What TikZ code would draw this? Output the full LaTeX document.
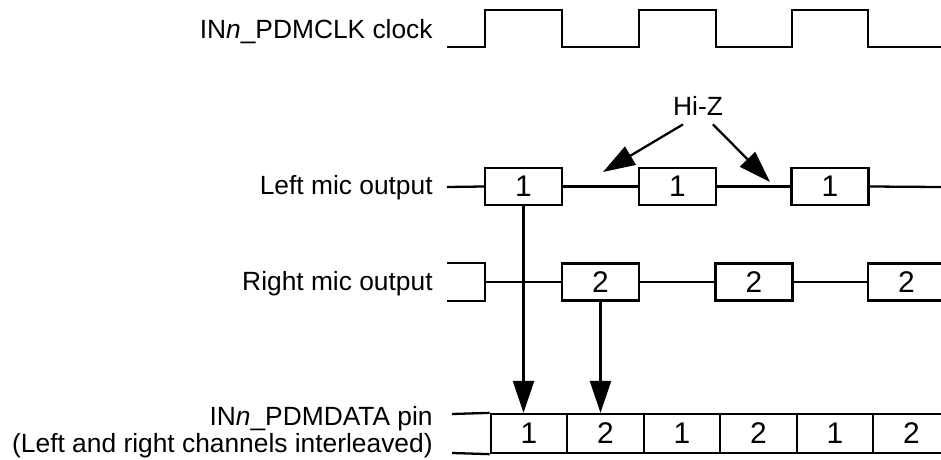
\documentclass[tikz,border=0pt]{standalone}
\usepackage{fontspec}
\setmainfont{Liberation Sans}
\usetikzlibrary{arrows.meta}

\begin{document}
\begin{tikzpicture}[
	x=0.02cm, y=-0.02cm,
	every node/.style = {font=\fontsize{15}{18}\selectfont},
	sig/.style = {line width=1.3pt},
	box/.style = {rectangle, draw, line width=1.3pt, minimum width=1.54cm, minimum height=0.74cm, inner sep=0pt, font=\fontsize{17}{20}\selectfont},
	cell/.style = {rectangle, draw, line width=1.3pt, minimum width=1.53cm, minimum height=0.78cm, inner sep=0pt, font=\fontsize{17}{20}\selectfont},
	lbl/.style = {anchor=base east, inner sep=0pt},
	arr/.style = {-{Triangle[length=0.64cm, width=0.42cm]}, line width=1.3pt}
	]
	\useasboundingbox (0, 0) rectangle (941, 460);
	
	% === === === Labels === === ===
	\node[lbl]	(clk-lbl)	at	(433, 38)	{IN\textit{n}\_PDMCLK clock};
	\node[lbl]	(left-lbl)	at	(433, 194)	{Left mic output};
	\node[lbl]	(right-lbl)	at	(433, 290)	{Right mic output};
	\node[lbl]	(data-lbl)	at	(433, 425)	{IN\textit{n}\_PDMDATA pin};
	\node[lbl]	(data-lbl2)	at	(433, 452)	{(Left and right channels interleaved)};
	\node[inner ysep=0.17cm]	(hiz)	at	(698, 106)	{Hi-Z};
	
	
	
	% === === === Clock === === ===
	\draw[sig] (447, 47) -- (485, 47) -- (485, 10) -- (562, 10) -- (562, 47) -- (639, 47) -- (639, 10) -- (716, 10) -- (716, 47) -- (792, 47) -- (792, 10) -- (868, 10) -- (868, 47) -- (941, 47);
	
	
	
	% === === === Left mic === === ===
	\coordinate	(L0)	at	(447, 187);
	\coordinate	(L4)	at	(941, 187);
	\node[box]	(L1)	at	(523.5, 186.5)	{1};
	\node[box]	(L2)	at	(677.5, 186.5)	{1};
	\node[box]	(L3)	at	(830, 186.5)	{1};
	
	\draw[sig] (L0) to (L1.west);
	\draw[sig] (L1.east) to (L2.west);
	\draw[sig] (L2.east) to (L3.west);
	\draw[sig] (L3.east) to (L4);
	
	
	
	% === === === Right mic === === ===
	\coordinate	(R0)	at	(485, 282);
	\node[box]	(R1)	at	(600.5, 282)	{2};
	\node[box]	(R2)	at	(754, 282)	{2};
	\node[box]	(R3)	at	(906.5, 282)	{2};
	
	\draw[sig] (447, 263) -- (485, 263) -- (485, 301) -- (447, 301);
	\draw[sig] (R0) to (R1.west);
	\draw[sig] (R1.east) to (R2.west);
	\draw[sig] (R2.east) to (R3.west);
	
	
	
	% === === === Data pin === === ===
	\node[cell]	(D1)	at	(529, 433.5)	{1};
	\node[cell]	(D2)	at	(605.5, 433.5)	{2};
	\node[cell]	(D3)	at	(682, 433.5)	{1};
	\node[cell]	(D4)	at	(758.5, 433.5)	{2};
	\node[cell]	(D5)	at	(835, 433.5)	{1};
	\node[cell]	(D6)	at	(911.5, 433.5)	{2};
	
	\draw[sig] (452, 414) to (D1.north west);
	\draw[sig] (452, 453) to (D1.south west);
	
	
	
	% === === === Arrows === === ===
	\draw[arr] (L1.south) to (L1.south |- D1.north);
	\draw[arr] (R1.south) to (R1.south |- D2.north);
	
	\coordinate	(z1)	at	(603, 172);
	\coordinate	(z2)	at	(770, 182);
	\draw[arr] ([xshift=-0.3cm]hiz.south) to (z1);
	\draw[arr] ([xshift=0.3cm]hiz.south) to (z2);
	
\end{tikzpicture}
\end{document}
